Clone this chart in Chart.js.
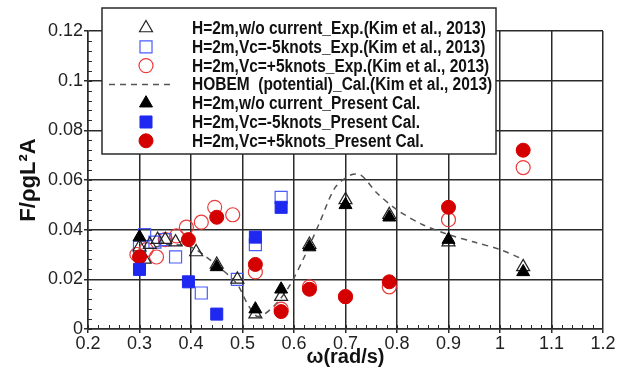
<!DOCTYPE html>
<html>
<head>
<meta charset="utf-8">
<script src="https://cdn.jsdelivr.net/npm/chart.js@4.4.0/dist/chart.umd.min.js"></script>
<style>
  html, body { margin: 0; padding: 0; background: #fff; }
</style>
</head>
<body>
<canvas id="forceChart" width="627" height="372"></canvas>
<script>
// Experiments (Kim et al., 2013)
const expNoCurX = [0.30, 0.31, 0.32, 0.335, 0.35, 0.37, 0.41, 0.45, 0.49, 0.525, 0.575, 0.63, 0.70, 0.785, 0.90, 1.045];
const expNoCurY = [0.033, 0.028, 0.034, 0.036, 0.036, 0.035, 0.031, 0.026, 0.020, 0.006, 0.013, 0.034, 0.052, 0.046, 0.035, 0.025];

const expMinusX = [0.30, 0.31, 0.33, 0.35, 0.37, 0.42, 0.49, 0.525, 0.575];
const expMinusY = [0.033, 0.038, 0.035, 0.036, 0.029, 0.0145, 0.020, 0.034, 0.053];

const expPlusX = [0.295, 0.313, 0.333, 0.35, 0.372, 0.391, 0.42, 0.446, 0.481, 0.525, 0.575, 0.63, 0.70, 0.785, 0.90, 1.045];
const expPlusY = [0.030, 0.032, 0.029, 0.036, 0.0375, 0.041, 0.043, 0.049, 0.046, 0.023, 0.008, 0.017, 0.013, 0.017, 0.044, 0.065];

// HOBEM potential calculation (Kim et al., 2013)
const hobemX = [0.33, 0.36, 0.40, 0.43, 0.46, 0.49, 0.51, 0.53, 0.56, 0.59, 0.62, 0.65, 0.68, 0.71, 0.73, 0.76, 0.80, 0.85, 0.90, 0.95, 1.00, 1.045];
const hobemY = [0.033, 0.034, 0.033, 0.029, 0.024, 0.018, 0.010, 0.005, 0.009, 0.017, 0.029, 0.043, 0.057, 0.062, 0.062, 0.055, 0.048, 0.042, 0.038, 0.035, 0.032, 0.028];

// Present calculation
const calNoCurX = [0.30, 0.45, 0.525, 0.575, 0.63, 0.70, 0.785, 0.90, 1.045];
const calNoCurY = [0.037, 0.025, 0.008, 0.016, 0.033, 0.050, 0.045, 0.036, 0.023];

const calMinusX = [0.30, 0.395, 0.45, 0.525, 0.575];
const calMinusY = [0.024, 0.019, 0.006, 0.037, 0.049];

const calPlusX = [0.30, 0.395, 0.45, 0.525, 0.575, 0.63, 0.70, 0.785, 0.90, 1.045];
const calPlusY = [0.029, 0.036, 0.045, 0.026, 0.007, 0.016, 0.013, 0.019, 0.049, 0.072];

const seriesLabels = [
    "H=2m,w/o current_Exp.(Kim et al., 2013)",
    "H=2m,Vc=-5knots_Exp.(Kim et al., 2013)",
    "H=2m,Vc=+5knots_Exp.(Kim et al., 2013)",
    "HOBEM  (potential)_Cal.(Kim et al., 2013)",
    "H=2m,w/o current_Present Cal.",
    "H=2m,Vc=-5knots_Present Cal.",
    "H=2m,Vc=+5knots_Present Cal."
];

function toPoints(xs, ys) {
    return xs.map((x, i) => ({ x: x, y: ys[i] }));
}

const axisColor = "#2a2a2a";
const fontFamily = "'Liberation Sans', Arial, sans-serif";
const tickFont = { family: fontFamily, size: 18 };

// small inward ticks between the grid lines
const minorTicks = {
    id: "minorTicks",
    afterDraw(chart) {
        const ctx = chart.ctx;
        const xs = chart.scales.x, ys = chart.scales.y;
        const area = chart.chartArea;
        ctx.save();
        ctx.strokeStyle = axisColor;
        ctx.lineWidth = 1;
        ctx.beginPath();
        for (let v = 0.2; v < 1.2; v += 0.02) {
            const px = Math.round(xs.getPixelForValue(v)) + 0.5;
            ctx.moveTo(px, area.bottom);
            ctx.lineTo(px, area.bottom - 4);
        }
        for (let v = 0; v < 0.12; v += 0.004) {
            const py = Math.round(ys.getPixelForValue(v)) + 0.5;
            ctx.moveTo(area.left, py);
            ctx.lineTo(area.left + 4, py);
        }
        ctx.stroke();
        ctx.restore();
    }
};

// boxed legend inside the plot, like the original figure
const boxLegend = {
    id: "boxLegend",
    afterDraw(chart) {
        const ctx = chart.ctx;
        const box = { left: 102, top: 8, right: 496, bottom: 154 };
        ctx.save();
        ctx.fillStyle = "#fff";
        ctx.fillRect(box.left, box.top, box.right - box.left, box.bottom - box.top);
        ctx.strokeStyle = axisColor;
        ctx.lineWidth = 1.5;
        ctx.strokeRect(box.left, box.top, box.right - box.left, box.bottom - box.top);

        chart.data.datasets.forEach((ds, i) => {
            const y = 28 + i * 18.8;
            if (ds.showLine) {
                ctx.strokeStyle = ds.borderColor;
                ctx.lineWidth = ds.borderWidth;
                ctx.setLineDash(ds.borderDash);
                ctx.beginPath();
                ctx.moveTo(109, y);
                ctx.lineTo(173, y);
                ctx.stroke();
                ctx.setLineDash([]);
            } else {
                ctx.fillStyle = ds.backgroundColor;
                ctx.strokeStyle = ds.borderColor;
                ctx.lineWidth = ds.borderWidth;
                Chart.helpers.drawPoint(ctx, {
                    pointStyle: ds.pointStyle,
                    radius: ds.pointRadius,
                    rotation: 0,
                    borderWidth: ds.borderWidth
                }, 146, y);
            }
            // the original text is narrow and tall, so squeeze it sideways
            ctx.save();
            ctx.translate(192, y + 1);
            ctx.scale(0.86, 1);
            ctx.fillStyle = "#111";
            ctx.font = "bold 18px " + fontFamily;
            ctx.textBaseline = "middle";
            ctx.fillText(ds.label, 0, 0);
            ctx.restore();
        });
        ctx.restore();
    }
};

new Chart(document.getElementById("forceChart"), {
    type: "scatter",
    data: {
        datasets: [
            {
                label: seriesLabels[0],
                data: toPoints(expNoCurX, expNoCurY),
                pointStyle: "triangle", pointRadius: 7.5, borderWidth: 1.2,
                borderColor: "#222", backgroundColor: "rgba(255,255,255,0)",
                showLine: false, order: 1
            },
            {
                label: seriesLabels[1],
                data: toPoints(expMinusX, expMinusY),
                pointStyle: "rect", pointRadius: 8.5, borderWidth: 1.2,
                borderColor: "#4a5cff", backgroundColor: "rgba(255,255,255,0)",
                showLine: false, order: 1
            },
            {
                label: seriesLabels[2],
                data: toPoints(expPlusX, expPlusY),
                pointStyle: "circle", pointRadius: 7, borderWidth: 1.2,
                borderColor: "#ec3a3a", backgroundColor: "rgba(255,255,255,0)",
                showLine: false, order: 1
            },
            {
                label: seriesLabels[3],
                data: toPoints(hobemX, hobemY),
                showLine: true, pointRadius: 0, borderWidth: 1.5,
                borderColor: "#555", borderDash: [6, 5], backgroundColor: "#555",
                tension: 0.3, order: 3
            },
            {
                label: seriesLabels[4],
                data: toPoints(calNoCurX, calNoCurY),
                pointStyle: "triangle", pointRadius: 7.5, borderWidth: 1,
                borderColor: "#000", backgroundColor: "#000",
                showLine: false, order: 0
            },
            {
                label: seriesLabels[5],
                data: toPoints(calMinusX, calMinusY),
                pointStyle: "rect", pointRadius: 8.5, borderWidth: 1,
                borderColor: "#1e28f0", backgroundColor: "#1e28f0",
                showLine: false, order: 0
            },
            {
                label: seriesLabels[6],
                data: toPoints(calPlusX, calPlusY),
                pointStyle: "circle", pointRadius: 7, borderWidth: 1,
                borderColor: "#d40000", backgroundColor: "#d40000",
                showLine: false, order: 0
            }
        ]
    },
    options: {
        responsive: false,
        animation: false,
        devicePixelRatio: 1,
        layout: { padding: { left: 16, right: 24, top: 31, bottom: 0 } },
        plugins: {
            legend: { display: false },
            tooltip: { enabled: false }
        },
        scales: {
            x: {
                type: "linear",
                min: 0.2, max: 1.2,
                afterFit: (scale) => { scale.height = 43; },
                ticks: {
                    stepSize: 0.1, autoSkip: false, maxRotation: 0, padding: 0,
                    color: "#222", font: tickFont,
                    callback: (v) => String(Number(v.toFixed(1)))
                },
                grid: { color: axisColor, lineWidth: 1.5, tickLength: 4 },
                border: { color: axisColor, width: 1.5 },
                title: {
                    display: true, text: "ω(rad/s)", color: "#111",
                    padding: { top: 0, bottom: 3 },
                    font: { family: fontFamily, size: 20, weight: "bold" }
                }
            },
            y: {
                type: "linear",
                min: 0, max: 0.12,
                afterFit: (scale) => { scale.width = 72; },
                ticks: {
                    stepSize: 0.02, autoSkip: false, padding: 1,
                    color: "#222", font: tickFont,
                    callback: (v) => String(Number(v.toFixed(2)))
                },
                grid: { color: axisColor, lineWidth: 1.5, tickLength: 4 },
                border: { color: axisColor, width: 1.5 },
                title: {
                    display: true, text: "F/ρgL²A", color: "#111",
                    padding: { top: 0, bottom: 0 },
                    font: { family: fontFamily, size: 22, weight: "bold" }
                }
            }
        }
    },
    plugins: [minorTicks, boxLegend]
});
</script>
</body>
</html>
